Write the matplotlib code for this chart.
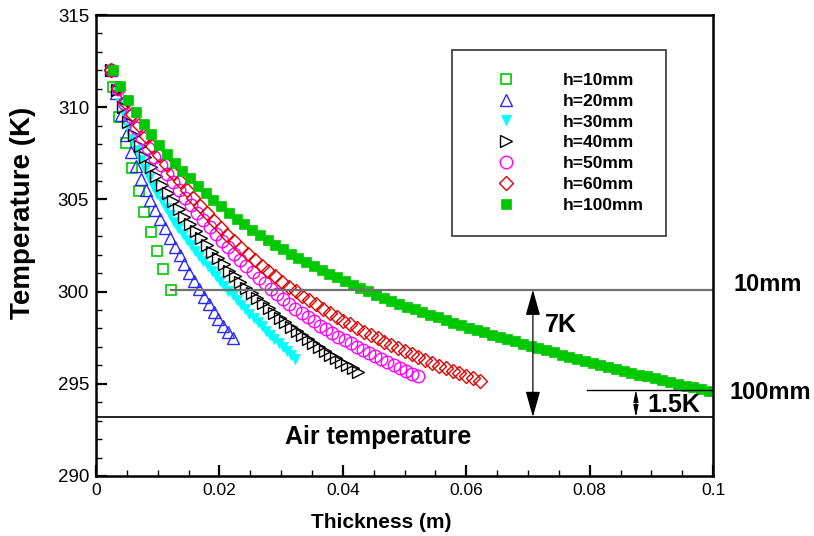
import numpy as np
import matplotlib.pyplot as plt
from matplotlib.ticker import MultipleLocator, FixedLocator, FuncFormatter

plt.rcParams['font.family'] = ['Liberation Sans', 'DejaVu Sans']

# h = 10 mm: thickness positions read individually
x_10 = [0.0027, 0.0038, 0.0048, 0.0059, 0.0069, 0.0078, 0.0089, 0.0099, 0.0109, 0.0122]
t_10 = [311.08, 309.48, 308.04, 306.69, 305.46, 304.30, 303.25, 302.20, 301.23, 300.09]

# other runs: evenly spaced points between first and last thickness
span_20 = (0.0025, 0.0222)
t_20 = [312.00, 310.75, 309.55, 308.49, 307.55, 306.80, 306.13, 305.50, 304.95, 304.44,
        303.93, 303.43, 302.93, 302.44, 301.96, 301.49, 301.03, 300.58, 300.14, 299.72,
        299.31, 298.91, 298.52, 298.15, 297.80, 297.46]

span_30 = (0.0025, 0.0323)
t_30 = [312.00, 311.05, 310.25, 309.55, 308.89, 308.27, 307.69, 307.16, 306.65, 306.17,
        305.72, 305.29, 304.90, 304.52, 304.15, 303.79, 303.45, 303.12, 302.81, 302.51,
        302.22, 301.93, 301.65, 301.37, 301.10, 300.83, 300.56, 300.30, 300.04, 299.79,
        299.54, 299.29, 299.05, 298.81, 298.57, 298.34, 298.11, 297.88, 297.65, 297.43,
        297.21, 296.99, 296.77, 296.56, 296.35]

span_40 = (0.0025, 0.0425)
t_40 = [312.00, 310.91, 310.00, 309.22, 308.51, 307.87, 307.31, 306.77, 306.26, 305.78,
        305.32, 304.89, 304.47, 304.06, 303.66, 303.27, 302.89, 302.52, 302.16, 301.81,
        301.47, 301.14, 300.82, 300.51, 300.21, 299.92, 299.64, 299.37, 299.10, 298.84,
        298.59, 298.34, 298.10, 297.87, 297.64, 297.42, 297.20, 296.99, 296.78, 296.58,
        296.39, 296.20, 296.02, 295.84, 295.66]

span_50 = (0.0025, 0.0522)
t_50 = [312.00, 310.96, 310.22, 309.53, 308.89, 308.31, 307.79, 307.31, 306.85, 306.39,
        305.95, 305.52, 305.09, 304.68, 304.28, 303.88, 303.50, 303.13, 302.76, 302.41,
        302.06, 301.73, 301.40, 301.08, 300.76, 300.46, 300.16, 299.88, 299.60, 299.34,
        299.08, 298.84, 298.60, 298.38, 298.16, 297.96, 297.76, 297.56, 297.37, 297.19,
        297.01, 296.83, 296.66, 296.49, 296.32, 296.16, 296.00, 295.85, 295.70, 295.55,
        295.41]

span_60 = (0.0025, 0.0622)
t_60 = [312.00, 311.04, 310.26, 309.63, 309.03, 308.46, 307.92, 307.41, 306.92, 306.44,
        305.98, 305.53, 305.09, 304.66, 304.25, 303.85, 303.46, 303.09, 302.73, 302.38,
        302.04, 301.72, 301.41, 301.11, 300.82, 300.54, 300.27, 300.02, 299.77, 299.53,
        299.30, 299.07, 298.85, 298.63, 298.42, 298.22, 298.02, 297.83, 297.64, 297.46,
        297.28, 297.11, 296.94, 296.77, 296.61, 296.45, 296.29, 296.14, 295.99, 295.84,
        295.70, 295.56, 295.42, 295.29, 295.16]

span_100 = (0.0027, 0.0993)
t_100 = [312.00, 311.17, 310.40, 309.72, 309.10, 308.52, 307.97, 307.46, 306.98, 306.55,
         306.14, 305.74, 305.35, 304.97, 304.62, 304.28, 303.95, 303.65, 303.36, 303.07,
         302.80, 302.54, 302.29, 302.06, 301.83, 301.61, 301.39, 301.18, 300.97, 300.77,
         300.57, 300.38, 300.19, 300.01, 299.84, 299.67, 299.51, 299.35, 299.19, 299.04,
         298.89, 298.74, 298.60, 298.46, 298.32, 298.18, 298.05, 297.92, 297.79, 297.66,
         297.54, 297.42, 297.30, 297.18, 297.06, 296.94, 296.82, 296.70, 296.58, 296.47,
         296.36, 296.25, 296.14, 296.03, 295.92, 295.81, 295.70, 295.60, 295.50, 295.40,
         295.30, 295.20, 295.10, 295.00, 294.90, 294.81, 294.72, 294.63]

# reference levels (K)
air_temp = 293.2
end_10 = 300.1
end_100 = 294.66


def grid(span, vals):
    return np.linspace(span[0], span[1], len(vals))


fig = plt.figure(figsize=(8.14, 5.36), dpi=100)
ax = fig.add_axes([0.118, 0.112, 0.758, 0.860])

green = '#00c800'
ax.plot(x_10, t_10, ls='none', marker='s', ms=7.5, mfc='none', mec=green, mew=1.2, label='h=10mm')
ax.plot(grid(span_20, t_20), t_20, ls='none', marker='^', ms=8, mfc='none', mec='#2828ff', mew=1.0, label='h=20mm')
ax.plot(grid(span_30, t_30), t_30, ls='none', marker='v', ms=7.5, mfc='#00ffff', mec='#00ffff', mew=0.5, label='h=30mm')
ax.plot(grid(span_40, t_40), t_40, ls='none', marker='>', ms=8, mfc='none', mec='black', mew=1.0, label='h=40mm')
ax.plot(grid(span_50, t_50), t_50, ls='none', marker='o', ms=9, mfc='none', mec='#ff00ff', mew=1.0, label='h=50mm')
ax.plot(grid(span_60, t_60), t_60, ls='none', marker='D', ms=7.5, mfc='none', mec='#e00000', mew=1.0, label='h=60mm')
ax.plot(grid(span_100, t_100), t_100, ls='none', marker='s', ms=7, mfc=green, mec=green, mew=0.5, label='h=100mm')

# reference lines
ax.plot([0, 0.1], [air_temp, air_temp], color='black', lw=1.2)
ax.plot([x_10[-1], 0.1], [end_10, end_10], color='#707070', lw=1.6)
ax.plot([0.0795, 0.1], [end_100, end_100], color='black', lw=1.0)

ax.annotate('', xy=(0.0708, end_10), xytext=(0.0708, air_temp),
            arrowprops=dict(arrowstyle='<|-|>,head_length=1.6,head_width=0.45',
                            color='black', lw=0.9, shrinkA=0, shrinkB=0, mutation_scale=10))
ax.annotate('', xy=(0.0875, end_100), xytext=(0.0875, air_temp),
            arrowprops=dict(arrowstyle='<|-|>,head_length=0.7,head_width=0.15',
                            color='black', lw=0.8, shrinkA=0, shrinkB=0, mutation_scale=10))

ax.text(0.0728, 298.2, '7K', fontsize=18, fontweight='bold', va='center', ha='left')
ax.text(0.0893, 293.85, '1.5K', fontsize=18, fontweight='bold', va='center', ha='left')
ax.text(0.0457, 292.1, 'Air temperature', fontsize=18, fontweight='bold', va='center', ha='center')
ax.text(0.1088, 300.4, '10mm', fontsize=17, fontweight='bold', va='center', ha='center', clip_on=False)
ax.text(0.1092, 294.5, '100mm', fontsize=17, fontweight='bold', va='center', ha='center', clip_on=False)

ax.set_xlim(0, 0.1)
ax.set_ylim(290, 315)
ax.xaxis.set_major_locator(FixedLocator([0, 0.02, 0.04, 0.06, 0.08, 0.1]))
ax.xaxis.set_major_formatter(FuncFormatter(lambda v, p: f'{v:g}'))
ax.xaxis.set_minor_locator(MultipleLocator(0.005))
ax.yaxis.set_major_locator(MultipleLocator(5))
ax.yaxis.set_minor_locator(MultipleLocator(1))
ax.tick_params(which='both', direction='in', top=False, right=False, pad=5)
ax.tick_params(axis='y', labelsize=13.5)
ax.tick_params(axis='x', labelsize=12.5)
ax.tick_params(which='major', length=8, width=1.6)
ax.tick_params(which='minor', length=4, width=1.0)
for s in ax.spines.values():
    s.set_linewidth(1.8)

ax.set_xlabel('Thickness (m)', fontsize=15, fontweight='bold')
ax.xaxis.set_label_coords(0.463, -0.08)
ax.set_ylabel('Temperature (K)', fontsize=20, fontweight='bold')
ax.yaxis.set_label_coords(-0.097, 0.57)

leg = ax.legend(loc='upper left', bbox_to_anchor=(0.577, 0.924), borderaxespad=0,
                numpoints=1, prop={'size': 12.5, 'weight': 'bold'}, frameon=True,
                fancybox=False, edgecolor='black', borderpad=1.3, labelspacing=0.33,
                handlelength=3.6, handletextpad=1.45)
leg.get_frame().set_linewidth(1.2)

fig.savefig('out.png', dpi=100)
